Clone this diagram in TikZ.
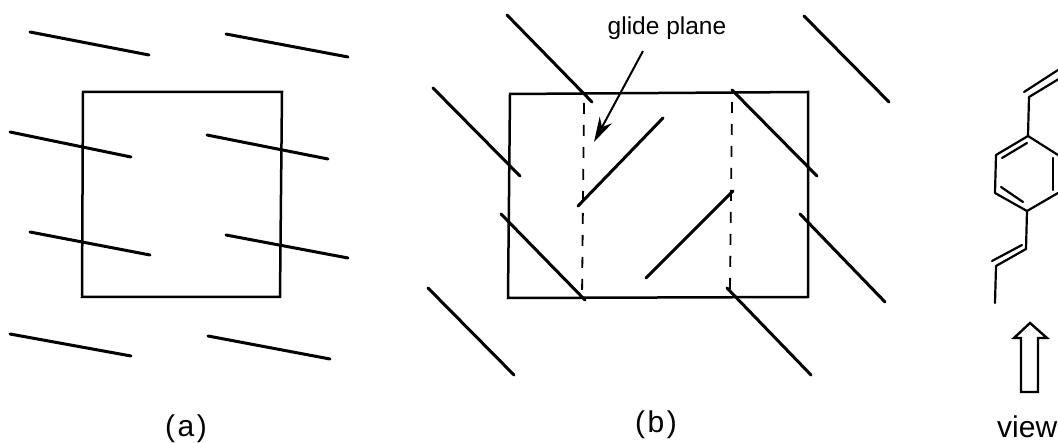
\documentclass[tikz,border=0pt]{standalone}
\usepackage{fontspec}
\setmainfont{Liberation Sans}
\usetikzlibrary{arrows.meta}
\tikzset{
 rod/.style={line width=3pt,line cap=round},
 cell/.style={line width=2.5pt,line join=miter},
 glide/.style={line width=1.8pt,dash pattern=on 11pt off 11pt},
 bond/.style={line width=2.2pt,line cap=round,line join=round},
 lab/.style={inner sep=0pt,font=\fontsize{30}{34}\selectfont},
 small/.style={inner sep=0pt,font=\fontsize{24.5}{28}\selectfont},
 pointer/.style={line width=2pt,-{Stealth[length=25pt,width=14pt]}},
}
\begin{document}
\begin{tikzpicture}[x=1pt,y=-1pt]
\useasboundingbox (0,0) rectangle (1058,443);
\clip (0,0) rectangle (1058,443);
% panel a
\draw[cell] (83,92) -- (282,92) -- (280,297) -- (82,297) -- cycle;
\foreach \a/\b/\c/\d in {30/32/149/55,226/34/348/57,10/132/131/157,207/135/328/159,30/232/150/255,226/235/348/258,10/334/131/356,208/336/330/359}
  \draw[rod] (\a,\b) -- (\c,\d);
\node[lab] (la) at (186,429) {(\kern2.5pt a\kern2.5pt)};
% panel b
\draw[cell] (510,94) -- (808,92) -- (808,297) -- (508,298) -- cycle;
\foreach \a/\b/\c/\d in {507/15/592/102,804/16/889/102,433/88/520/176,732/90/817/176,501/214/585/300,800/214/885/302,428/288/514/375,727/288/811/375,578/206/663/118,646/278/733/191}
  \draw[rod] (\a,\b) -- (\c,\d);
\draw[glide] (584,103) -- (582,298);
\draw[glide] (732,102) -- (730,290);
\node[small] (gp) at (667,28) {glide plane};
\coordinate (gt) at (594,142);
\draw[pointer] (643,51) -- (gt);
\node[lab] (lb) at (656,425) {(\kern2.5pt b\kern2.5pt)};
% molecule
\draw[bond] (1058,155) -- (1028,136) -- (996,155) -- (995,193) -- (1027,211) -- (1058,193);
\draw[bond] (1002,158) -- (1027,143);
\draw[bond] (1001,187) -- (1023,202);
\draw[bond] (1053,158) -- (1053,190);
\draw[bond] (1028,136) -- (1029,97) -- (1062,77);
\draw[bond] (1024,92) -- (1058,70);
\draw[bond] (1027,211) -- (1026,249) -- (996,266) -- (995,303);
\draw[bond] (992,261) -- (1022,245);
\draw[line width=2.4pt,line join=miter] (1030,323) -- (1047,338) -- (1038,338) -- (1038,392) -- (1021,392) -- (1021,338) -- (1014,338) -- cycle;
\node[lab,anchor=base west] (vw) at (997,438) {view};
\end{tikzpicture}
\end{document}
